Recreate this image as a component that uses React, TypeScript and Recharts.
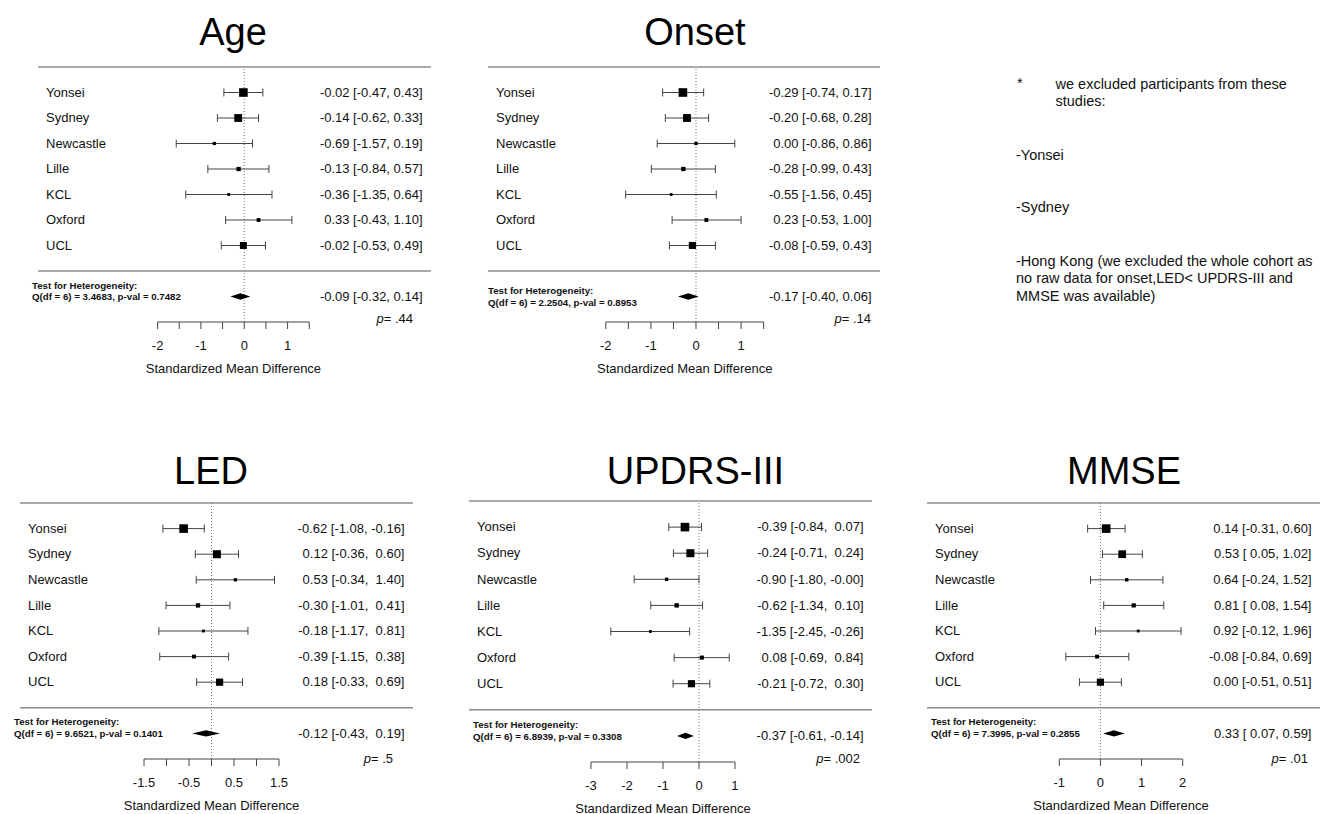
import React from 'react';
import { ComposedChart, Scatter, ErrorBar, XAxis, YAxis, ReferenceLine } from 'recharts';

const FONT = '"Liberation Sans", Arial, Helvetica, sans-serif';

const studies = ['Yonsei', 'Sydney', 'Newcastle', 'Lille', 'KCL', 'Oxford', 'UCL'];

// Age
const ageEst = [-0.02, -0.14, -0.69, -0.13, -0.36, 0.33, -0.02];
const ageLo = [-0.47, -0.62, -1.57, -0.84, -1.35, -0.43, -0.53];
const ageHi = [0.43, 0.33, 0.19, 0.57, 0.64, 1.1, 0.49];
const ageSummary = [-0.09, -0.32, 0.14];
const ageQ = '3.4683';
const agePval = '0.7482';
const ageP = '.44';

// Onset
const onsetEst = [-0.29, -0.2, 0.0, -0.28, -0.55, 0.23, -0.08];
const onsetLo = [-0.74, -0.68, -0.86, -0.99, -1.56, -0.53, -0.59];
const onsetHi = [0.17, 0.28, 0.86, 0.43, 0.45, 1.0, 0.43];
const onsetSummary = [-0.17, -0.4, 0.06];
const onsetQ = '2.2504';
const onsetPval = '0.8953';
const onsetP = '.14';

// LED
const ledEst = [-0.62, 0.12, 0.53, -0.3, -0.18, -0.39, 0.18];
const ledLo = [-1.08, -0.36, -0.34, -1.01, -1.17, -1.15, -0.33];
const ledHi = [-0.16, 0.6, 1.4, 0.41, 0.81, 0.38, 0.69];
const ledSummary = [-0.12, -0.43, 0.19];
const ledQ = '9.6521';
const ledPval = '0.1401';
const ledP = '.5';

// UPDRS-III
const updrsEst = [-0.39, -0.24, -0.9, -0.62, -1.35, 0.08, -0.21];
const updrsLo = [-0.84, -0.71, -1.8, -1.34, -2.45, -0.69, -0.72];
const updrsHi = [0.07, 0.24, -0.0, 0.1, -0.26, 0.84, 0.3];
const updrsSummary = [-0.37, -0.61, -0.14];
const updrsQ = '6.8939';
const updrsPval = '0.3308';
const updrsP = '.002';

// MMSE
const mmseEst = [0.14, 0.53, 0.64, 0.81, 0.92, -0.08, 0.0];
const mmseLo = [-0.31, 0.05, -0.24, 0.08, -0.12, -0.84, -0.51];
const mmseHi = [0.6, 1.02, 1.52, 1.54, 1.96, 0.69, 0.51];
const mmseSummary = [0.33, 0.07, 0.59];
const mmseQ = '7.3995';
const mmsePval = '0.2855';
const mmseP = '.01';

const halfTicks = [-2, -1.5, -1, -0.5, 0, 0.5, 1, 1.5];
const halfTickLabels = [-2, -1, 0, 1];
const ledTicks = [-1.5, -1, -0.5, 0, 0.5, 1, 1.5];
const ledTickLabels = [-1.5, -0.5, 0.5, 1.5];
const updrsTicks = [-3, -2, -1, 0, 1];
const mmseTicks = [-1, 0, 1, 2];

const PAD_L = 12;
const PAD_R = 4;
const PAD_T = 5;
const X_AXIS_H = 62;

const fmt = (v: number) => (v < 0 || Object.is(v, -0) ? '-' : '') + Math.abs(v).toFixed(2);
const padCol = (vals: number[]) => {
  const s = vals.map(fmt);
  const w = Math.max(...s.map((t) => t.length));
  return s.map((t) => t.padStart(w));
};

type Panel = {
  title: string;
  est: number[];
  lo: number[];
  hi: number[];
  summary: number[];
  q: string;
  pval: string;
  p: string;
  ticks: number[];
  tickLabels: number[];
  domain: [number, number];
  box: { left: number; right: number; top: number; axisY: number };
  titlePos: { x: number; y: number };
  heteroDx: number;
  heteroDy: [number, number];
  pInset: number;
  pRow: number;
};

const panels: Panel[] = [
  {
    title: 'Age', est: ageEst, lo: ageLo, hi: ageHi, summary: ageSummary, q: ageQ, pval: agePval, p: ageP,
    ticks: halfTicks, tickLabels: halfTickLabels, domain: [-4.76, 4.31],
    box: { left: 38, right: 431, top: 66.5, axisY: 321.5 }, titlePos: { x: 233, y: 45 },
    heteroDx: -6, heteroDy: [-11, 0], pInset: 18, pRow: 8.87,
  },
  {
    title: 'Onset', est: onsetEst, lo: onsetLo, hi: onsetHi, summary: onsetSummary, q: onsetQ, pval: onsetPval, p: onsetP,
    ticks: halfTicks, tickLabels: halfTickLabels, domain: [-4.612, 4.08],
    box: { left: 488, right: 880, top: 67, axisY: 322 }, titlePos: { x: 695, y: 45.5 },
    heteroDx: 0, heteroDy: [-6, 6], pInset: 9, pRow: 8.87,
  },
  {
    title: 'LED', est: ledEst, lo: ledLo, hi: ledHi, summary: ledSummary, q: ledQ, pval: ledPval, p: ledP,
    ticks: ledTicks, tickLabels: ledTickLabels, domain: [-4.256, 4.478],
    box: { left: 20, right: 413, top: 503, axisY: 759 }, titlePos: { x: 211, y: 484 },
    heteroDx: -6, heteroDy: [-11.5, 0], pInset: 20, pRow: 8.97,
  },
  {
    title: 'UPDRS-III', est: updrsEst, lo: updrsLo, hi: updrsHi, summary: updrsSummary, q: updrsQ, pval: updrsPval, p: updrsP,
    ticks: updrsTicks, tickLabels: updrsTicks, domain: [-6.389, 4.806],
    box: { left: 469, right: 872, top: 501, axisY: 762 }, titlePos: { x: 695.5, y: 484 },
    heteroDx: 4, heteroDy: [-11, 1], pInset: 12, pRow: 8.86,
  },
  {
    title: 'MMSE', est: mmseEst, lo: mmseLo, hi: mmseHi, summary: mmseSummary, q: mmseQ, pval: mmsePval, p: mmseP,
    ticks: mmseTicks, tickLabels: mmseTicks, domain: [-4.216, 5.339],
    box: { left: 927, right: 1320, top: 503, axisY: 759 }, titlePos: { x: 1124, y: 484 },
    heteroDx: 4, heteroDy: [-11.5, 0], pInset: 12, pRow: 8.97,
  },
];

const heteroStyle = { fontSize: 9.7, fontWeight: 'bold' as const, fill: '#111', fontFamily: FONT };

function ForestPanel({ cfg }: { cfg: Panel }) {
  const { est, lo, hi, summary, box } = cfg;
  const n = est.length;
  const W = box.right - box.left + PAD_L + PAD_R;
  const H = box.axisY - box.top + PAD_T + X_AXIS_H;
  const plotRight = W - PAD_R;

  // inverse-variance weights -> square size (as in metafor)
  const wts = lo.map((l, i) => {
    const se = (hi[i] - l) / 3.92;
    return 1 / (se * se);
  });
  const wMin = Math.min(...wts);
  const wMax = Math.max(...wts);
  const rows = est.map((e, i) => ({
    x: e,
    y: i,
    err: [e - lo[i], hi[i] - e],
    size: 2.8 + 5.8 * ((wts[i] - wMin) / (wMax - wMin)),
  }));

  const estCol = padCol([...est, summary[0]]);
  const loCol = padCol([...lo, summary[1]]);
  const hiCol = padCol([...hi, summary[2]]);
  const ciText = estCol.map((e, i) => `${e} [${loCol[i]}, ${hiCol[i]}]`);

  const leftTick = (p: any) => {
    const v = p.payload.value;
    if (v === n + 1) {
      return (
        <g>
          <text x={PAD_L + cfg.heteroDx} y={p.y + cfg.heteroDy[0]} dy="0.35em" style={heteroStyle}>
            Test for Heterogeneity:
          </text>
          <text x={PAD_L + cfg.heteroDx} y={p.y + cfg.heteroDy[1]} dy="0.35em" style={heteroStyle}>
            {`Q(df = ${n - 1}) = ${cfg.q}, p-val = ${cfg.pval}`}
          </text>
        </g>
      );
    }
    return (
      <text x={PAD_L + 8} y={p.y} dy="0.33em" fontSize={13} fill="#111" fontFamily={FONT}>
        {studies[v]}
      </text>
    );
  };

  const rightTick = (p: any) => {
    const v = p.payload.value;
    if (v === cfg.pRow) {
      return (
        <text x={plotRight - cfg.pInset} y={p.y} dy="0.33em" textAnchor="end" fontSize={13} fill="#111" fontFamily={FONT}>
          <tspan fontStyle="italic">p</tspan>= {cfg.p}
        </text>
      );
    }
    const idx = v === n + 1 ? n : v;
    return (
      <text x={plotRight - 8.5} y={p.y} dy="0.33em" textAnchor="end" fontSize={13} fill="#111" fontFamily={FONT} style={{ whiteSpace: 'pre' }}>
        {ciText[idx]}
      </text>
    );
  };

  const rowTicks = [...studies.map((_, i) => i), n + 1];

  const diamond = (p: any) => {
    const { x1, x2, y1 } = p;
    const mid = (x1 + x2) / 2;
    return <polygon points={`${x1},${y1} ${mid},${y1 - 3.2} ${x2},${y1} ${mid},${y1 + 3.2}`} fill="#000" />;
  };

  const square = (p: any) => {
    const s = p.payload.size;
    return <rect x={p.cx - s / 2} y={p.cy - s / 2} width={s} height={s} fill="#000" />;
  };

  return (
    <>
      <div
        style={{
          position: 'absolute',
          left: cfg.titlePos.x - 200,
          top: cfg.titlePos.y - 32.2,
          width: 400,
          textAlign: 'center',
          fontFamily: FONT,
          fontSize: 38,
          lineHeight: '38px',
          color: '#000',
        }}
      >
        {cfg.title}
      </div>
      <div style={{ position: 'absolute', left: box.left - PAD_L, top: box.top - PAD_T }}>
        <ComposedChart width={W} height={H} margin={{ top: PAD_T, right: PAD_R, bottom: 0, left: PAD_L }}>
          <XAxis
            type="number"
            dataKey="x"
            domain={cfg.domain}
            allowDataOverflow
            ticks={cfg.ticks}
            interval={0}
            tickFormatter={(v: number) => (cfg.tickLabels.includes(v) ? String(v) : '')}
            axisLine={false}
            stroke="#444"
            tickSize={7}
            tickMargin={12}
            tick={{ fontSize: 13, fill: '#111', fontFamily: FONT }}
            height={X_AXIS_H}
          />
          <YAxis
            yAxisId="left"
            type="number"
            dataKey="y"
            domain={[-1, n + 2]}
            allowDataOverflow
            reversed
            mirror
            width={1}
            ticks={rowTicks}
            interval={0}
            axisLine={false}
            tickLine={false}
            tickSize={0}
            tickMargin={0}
            tick={leftTick}
          />
          <YAxis
            yAxisId="right"
            orientation="right"
            type="number"
            dataKey="y"
            domain={[-1, n + 2]}
            allowDataOverflow
            reversed
            mirror
            width={1}
            ticks={[...rowTicks, cfg.pRow]}
            interval={0}
            axisLine={false}
            tickLine={false}
            tickSize={0}
            tickMargin={0}
            tick={rightTick}
          />
          <ReferenceLine yAxisId="left" y={-1} stroke="#8c8c8c" strokeWidth={1.5} ifOverflow="visible" />
          <ReferenceLine yAxisId="left" y={n} stroke="#8c8c8c" strokeWidth={1.5} ifOverflow="visible" />
          <ReferenceLine yAxisId="left" x={0} stroke="#777" strokeDasharray="1 2" ifOverflow="visible" />
          <ReferenceLine
            yAxisId="left"
            segment={[
              { x: cfg.ticks[0], y: n + 2 },
              { x: cfg.ticks[cfg.ticks.length - 1], y: n + 2 },
            ]}
            stroke="#444"
            strokeWidth={1}
            ifOverflow="visible"
            label={{
              value: 'Standardized Mean Difference',
              position: 'bottom',
              offset: 42,
              fontSize: 13,
              fill: '#111',
              fontFamily: FONT,
            }}
          />
          <ReferenceLine
            yAxisId="left"
            segment={[
              { x: summary[1], y: n + 1 },
              { x: summary[2], y: n + 1 },
            ]}
            ifOverflow="visible"
            shape={diamond}
          />
          <Scatter yAxisId="left" data={rows} shape={square} isAnimationActive={false}>
            <ErrorBar dataKey="err" direction="x" width={4} stroke="#444" strokeWidth={1} isAnimationActive={false} />
          </Scatter>
        </ComposedChart>
      </div>
    </>
  );
}

const noteStyle: React.CSSProperties = {
  position: 'absolute',
  fontFamily: FONT,
  fontSize: 14.5,
  lineHeight: '17.5px',
  color: '#111',
  whiteSpace: 'nowrap',
};

// baselines of the note lines
const noteLines: { text: string; x: number; base: number }[] = [
  { text: '*', x: 1017, base: 89 },
  { text: 'we excluded participants from these', x: 1055.5, base: 89.5 },
  { text: 'studies:', x: 1055.5, base: 107 },
  { text: '-Yonsei', x: 1016, base: 160.5 },
  { text: '-Sydney', x: 1016, base: 213 },
  { text: '-Hong Kong (we excluded the whole cohort as', x: 1016, base: 266.5 },
  { text: 'no raw data for onset,LED< UPDRS-III and', x: 1016, base: 284 },
  { text: 'MMSE was available)', x: 1016, base: 301.5 },
];

export default function App() {
  return (
    <div style={{ position: 'absolute', left: 0, top: 0, width: 1337, height: 814, overflow: 'hidden', background: '#fff' }}>
      {panels.map((p) => (
        <ForestPanel key={p.title} cfg={p} />
      ))}
      {noteLines.map((l) => (
        <div key={l.text} style={{ ...noteStyle, left: l.x, top: l.base - 13.8 }}>
          {l.text}
        </div>
      ))}
    </div>
  );
}
